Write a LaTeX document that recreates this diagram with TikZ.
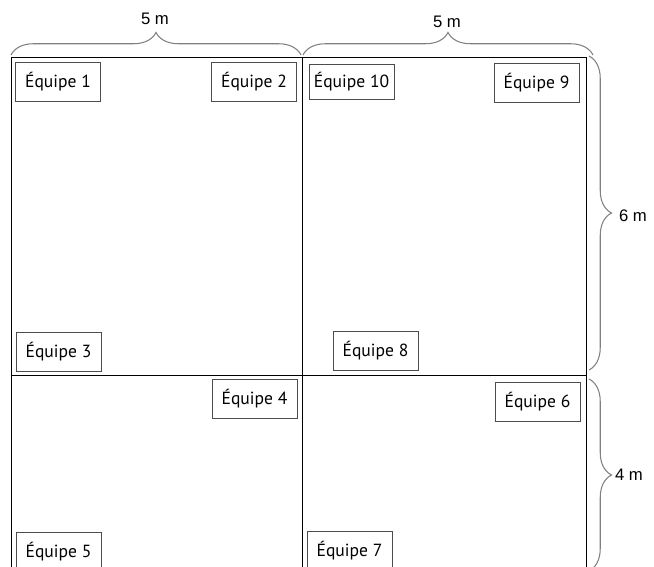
\documentclass[tikz,border=0pt]{standalone}
\usepackage{fontspec}
\setmainfont{PT Sans}
\newfontfamily\dimfont{Liberation Sans}
\usetikzlibrary{decorations.pathreplacing}
\begin{document}
\begin{tikzpicture}
		% plan of the room split in four zones, with the team places and the sizes
		[x=0.02cm,y=-0.02cm,
		team/.style={draw=black!70,fill=white,minimum width=1.7cm,minimum height=0.78cm,inner sep=0pt,font=\fontsize{10}{12}\selectfont},
		bracket/.style={draw=black!50,semithick,decorate,decoration={brace,amplitude=0.45cm}},
		size/.style={font=\dimfont\fontsize{9.5}{11}\selectfont},
		wall/.style={line width=0.55pt}]
		\clip (0,0) rectangle (654,567);

		\coordinate (nw) at (11,57);
		\coordinate (n) at (302,57);
		\coordinate (ne) at (586,57);
		\coordinate (w) at (11,375);
		\coordinate (e) at (586,375);
		\coordinate (sw) at (11,600);
		\coordinate (s) at (302,600);
		\coordinate (se) at (586,600);

		\draw[wall] (nw) -- (ne) -- (se);
		\draw[wall] (nw) -- (sw);
		\draw[wall] (n) -- (s);
		\draw[wall] (w) -- (e);

		\node[team] (t1) at (58,82) {Équipe 1};
		\node[team] (t2) at (254,82) {Équipe 2};
		\node[team,minimum height=0.7cm] (t10) at (351.5,81.5) {Équipe 10};
		\node[team] (t9) at (536.5,82.5) {Équipe 9};
		\node[team] (t3) at (58.5,352) {Équipe 3};
		\node[team] (t8) at (375.5,351) {Équipe 8};
		\node[team] (t4) at (254.5,399) {Équipe 4};
		\node[team] (t6) at (537.5,401.5) {Équipe 6};
		\node[team] (t5) at (58.5,551.5) {Équipe 5};
		\node[team] (t7) at (349.5,550.5) {Équipe 7};

		\coordinate (b1) at (11,55);
		\coordinate (b2) at (301,55);
		\coordinate (b3) at (303,55);
		\coordinate (b4) at (593,55);
		\coordinate (b5) at (589,56);
		\coordinate (b6) at (589,370);
		\coordinate (b7) at (589,379);
		\coordinate (b8) at (589,571);

		\draw[bracket] (b1) -- (b2);
		\draw[bracket] (b3) -- (b4);
		\draw[bracket] (b5) -- (b6);
		\draw[bracket] (b7) -- (b8);

		\node[size] (l1) at (155,19) {5 m};
		\node[size] (l2) at (447,22) {5 m};
		\node[size] (l3) at (633,216) {6 m};
		\node[size] (l4) at (629,475) {4 m};
	\end{tikzpicture}
\end{document}
